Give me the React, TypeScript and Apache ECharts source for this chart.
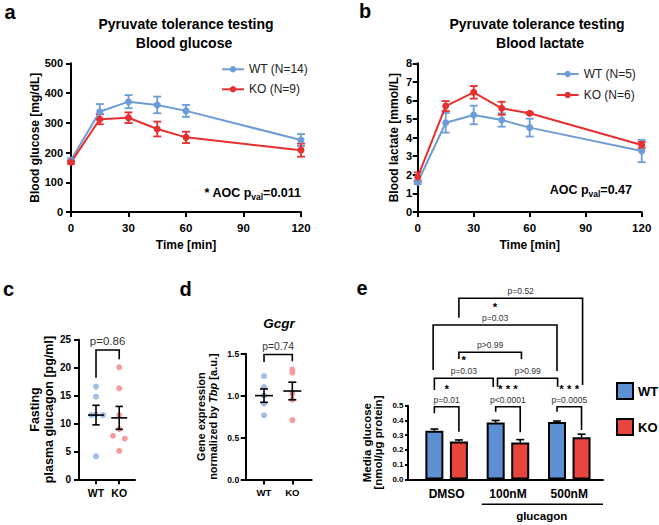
import React, { useEffect, useRef } from 'react';
import * as echarts from 'echarts';

const FONT = 'Arial, "Liberation Sans", Helvetica, sans-serif';

// ---------- panel a / b ----------
const timePoints = [0, 15, 30, 45, 60, 120];
const glucoseWT = [175, 337, 371, 360, 340, 242];
const glucoseWTErr = [5, 26, 22, 28, 20, 20];
const glucoseKO = [167, 312, 317, 279, 251, 208];
const glucoseKOErr = [5, 17, 18, 25, 19, 22];
const lactateWT = [1.6, 4.8, 5.22, 4.95, 4.54, 3.28];
const lactateWTErr = [0.1, 0.53, 0.5, 0.36, 0.48, 0.6];
const lactateKO = [1.88, 5.7, 6.44, 5.58, 5.31, 3.6];
const lactateKOErr = [0.25, 0.27, 0.34, 0.35, 0.05, 0.17];

// ---------- panel c ----------
const genotypes = ['WT', 'KO'];
const glucagonWTx = [1, 1, 0.8, 1, 1.3, 1];
const glucagonWTy = [16.6, 14.8, 11.5, 11.6, 11.5, 4.1];
const glucagonKOx = [2, 2, 2, 2, 1.73, 2.24, 2];
const glucagonKOy = [20.05, 16.3, 11.5, 9.0, 7.8, 7.3, 5.1];
const glucagonMean = [11.5, 11.0];
const glucagonSem = [1.75, 2.05];
const glucagonBracket = [[1, 2, 23.15, 18.2, 21.5]];
const glucagonP = ['p=0.86'];

// ---------- panel d ----------
const gcgrWTx = [1, 1, 1, 1, 1];
const gcgrWTy = [1.233, 1.102, 1.0, 0.905, 0.766];
const gcgrKOx = [2, 2, 2, 2, 2];
const gcgrKOy = [1.312, 1.273, 1.024, 0.952, 0.707];
const gcgrMean = [1.0, 1.055];
const gcgrSem = [0.08, 0.105];
const gcgrBracket = [[1, 2, 1.49, 1.4, 1.41]];
const gcgrP = ['p=0.74'];

// ---------- panel e ----------
const conditions = ['DMSO', '100nM', '500nM'];
const mediaWT = [0.33, 0.386, 0.39];
const mediaWTErr = [0.012, 0.014, 0.006];
const mediaKO = [0.257, 0.25, 0.287];
const mediaKOErr = [0.011, 0.02, 0.02];
const mediaBrackets = [
  [0.8, 1.2, 0.493, 0.449, 0.324],
  [1.8, 2.2, 0.493, 0.459, 0.32],
  [2.8, 3.2, 0.493, 0.459, 0.335],
  [0.8, 1.76, 0.686, 0.606, 0.627],
  [1.83, 2.81, 0.686, 0.629, 0.629],
  [1.2, 2.22, 0.862, 0.816, 0.816],
  [0.78, 2.8, 1.047, 0.742, 0.735],
  [1.2, 3.217, 1.228, 1.096, 0.64],
];
const mediaP = ['p=0.01', 'p<0.0001', 'p=0.0005', 'p=0.03', 'p>0.99', 'p>0.99', 'p=0.03', 'p=0.52'];
const mediaStars = ['*', '* * *', '* * *', '*', '', '', '*', ''];

const BLUE = '#6c9dd8';
const RED = '#e6302f';
const PT_BLUE = '#9fbde6';
const PT_RED = '#f39d9d';
const BAR_BLUE = '#5d8fd3';
const BAR_RED = '#e8453f';

function errRender(color: string, cap: number, lw: number, upOnly = false) {
  return (params: any, api: any) => {
    const x = api.value(0), y = api.value(1), e = api.value(2);
    const top = api.coord([x, y + e]);
    const bot = api.coord([x, upOnly ? y : y - e]);
    const st = { stroke: color, lineWidth: lw };
    const children: any[] = [
      { type: 'line', shape: { x1: top[0], y1: top[1], x2: bot[0], y2: bot[1] }, style: st },
      { type: 'line', shape: { x1: top[0] - cap, y1: top[1], x2: top[0] + cap, y2: top[1] }, style: st },
    ];
    if (!upOnly) children.push({ type: 'line', shape: { x1: bot[0] - cap, y1: bot[1], x2: bot[0] + cap, y2: bot[1] }, style: st });
    return { type: 'group', children };
  };
}

function meanRender(half: number, cap: number, lw: number) {
  return (params: any, api: any) => {
    const x = api.value(0), m = api.value(1), s = api.value(2);
    const pm = api.coord([x, m]), pt = api.coord([x, m + s]), pb = api.coord([x, m - s]);
    const st = { stroke: '#000', lineWidth: lw };
    return {
      type: 'group',
      children: [
        { type: 'line', shape: { x1: pm[0] - half, y1: pm[1], x2: pm[0] + half, y2: pm[1] }, style: st },
        { type: 'line', shape: { x1: pt[0], y1: pt[1], x2: pb[0], y2: pb[1] }, style: st },
        { type: 'line', shape: { x1: pt[0] - cap, y1: pt[1], x2: pt[0] + cap, y2: pt[1] }, style: st },
        { type: 'line', shape: { x1: pb[0] - cap, y1: pb[1], x2: pb[0] + cap, y2: pb[1] }, style: st },
      ],
    };
  };
}

function bracketRender(pTexts: string[], stars: string[], pSize: number, pGap: number, starGap: number, starSize: number) {
  return (params: any, api: any) => {
    const x1 = api.value(0), x2 = api.value(1), yt = api.value(2), yl = api.value(3), yr = api.value(4);
    const a = api.coord([x1, yl]), b = api.coord([x1, yt]), c = api.coord([x2, yt]), d = api.coord([x2, yr]);
    const cx = (b[0] + c[0]) / 2;
    const children: any[] = [
      { type: 'polyline', shape: { points: [a, b, c, d] }, style: { stroke: '#000', lineWidth: 1.6, fill: 'none' } },
    ];
    const p = pTexts[params.dataIndex];
    if (p) children.push({ type: 'text', style: { text: p, x: cx, y: b[1] - pGap, align: 'center', verticalAlign: 'middle', fontSize: pSize, fontFamily: FONT, fill: '#333' } });
    const s = stars[params.dataIndex];
    if (s) children.push({ type: 'text', style: { text: s, x: cx, y: b[1] - starGap, align: 'center', verticalAlign: 'middle', fontSize: starSize, fontWeight: 'bold', fontFamily: FONT, fill: '#000' } });
    return { type: 'group', children };
  };
}

const axLine = { show: true, onZero: false, lineStyle: { color: '#000', width: 2 } };
const axTick = (len: number) => ({ show: true, length: len, lineStyle: { color: '#000', width: 2 } });
const lbl = (size: number, margin: number) => ({ color: '#000', fontWeight: 'bold' as const, fontSize: size, fontFamily: FONT, margin });
const nameStyle = (size: number, lh: number) => ({ color: '#000', fontWeight: 'bold' as const, fontSize: size, fontFamily: FONT, lineHeight: lh });

function txt(text: string, x: number, y: number, size: number, opts: any = {}) {
  return {
    type: 'text',
    z: 100,
    style: { text, x, y, align: opts.align || 'center', verticalAlign: 'middle', fontSize: size, fontWeight: opts.weight || 'bold', fontStyle: opts.style || 'normal', fontFamily: FONT, fill: opts.fill || '#000' },
  };
}

function aocText(main1: string, main2: string, x: number, y: number) {
  return {
    type: 'text',
    z: 100,
    style: {
      text: `{b|${main1}}{s|val}{b|${main2}}`,
      x, y, align: 'right', verticalAlign: 'middle',
      rich: {
        b: { fontSize: 12.5, fontWeight: 'bold', fontFamily: FONT, fill: '#000' },
        s: { fontSize: 8.5, fontWeight: 'bold', fontFamily: FONT, fill: '#000', padding: [8, 0, 0, 0] },
      },
    },
  };
}

function buildOption(): any {
  const grids = [
    { left: 71, top: 63.3, width: 230, height: 148.7 },
    { left: 417.7, top: 63.3, width: 224, height: 148.7 },
    { left: 79, top: 339.7, width: 56, height: 139.6 },
    { left: 245.7, top: 353.7, width: 66, height: 125.8 },
    { left: 408, top: 405.7, width: 195, height: 73.8 },
  ].map((g) => ({ ...g, containLabel: false, outerBoundsMode: 'none' }));

  const xAxis: any[] = [
    {
      gridIndex: 0, type: 'value', min: 0, max: 120, interval: 30,
      name: 'Time [min]', nameLocation: 'middle', nameGap: 26, nameTextStyle: nameStyle(12, 14),
      axisLine: axLine, axisTick: axTick(5), axisLabel: lbl(11.5, 10), splitLine: { show: false },
    },
    {
      gridIndex: 1, type: 'value', min: 0, max: 120, interval: 30,
      name: 'Time [min]', nameLocation: 'middle', nameGap: 26, nameTextStyle: nameStyle(12, 14),
      axisLine: axLine, axisTick: axTick(5), axisLabel: lbl(11.5, 10), splitLine: { show: false },
    },
    {
      gridIndex: 2, type: 'value', min: 0.267, max: 2.68,
      axisLine: axLine, axisTick: { ...axTick(5), customValues: [1, 2] },
      axisLabel: { ...lbl(10.5, 8), customValues: [1, 2], formatter: (v: number) => genotypes[Math.round(v) - 1] || '' },
      splitLine: { show: false },
    },
    {
      gridIndex: 3, type: 'value', min: 0.353, max: 2.685,
      axisLine: axLine, axisTick: { ...axTick(5), customValues: [1, 2] },
      axisLabel: { ...lbl(9.6, 8), customValues: [1, 2], formatter: (v: number) => genotypes[Math.round(v) - 1] || '' },
      splitLine: { show: false },
    },
    {
      gridIndex: 4, type: 'value', min: 0.37, max: 3.55,
      axisLine: axLine, axisTick: { show: false },
      axisLabel: { ...lbl(12, 8), customValues: [1, 2, 3], formatter: (v: number) => conditions[Math.round(v) - 1] || '' },
      splitLine: { show: false },
    },
  ];

  const yAxis: any[] = [
    {
      gridIndex: 0, type: 'value', min: 0, max: 500, interval: 100,
      name: 'Blood glucose [mg/dL]', nameLocation: 'middle', nameGap: 29, nameTextStyle: nameStyle(12, 12),
      axisLine: axLine, axisTick: axTick(5), axisLabel: lbl(11, 8), splitLine: { show: false },
    },
    {
      gridIndex: 1, type: 'value', min: 0, max: 8, interval: 1,
      name: 'Blood lactate [mmol/L]', nameLocation: 'middle', nameGap: 17.5, nameTextStyle: nameStyle(12, 12),
      axisLine: axLine, axisTick: axTick(5), axisLabel: lbl(11, 5.5), splitLine: { show: false },
    },
    {
      gridIndex: 2, type: 'value', min: 0, max: 25, interval: 5,
      name: 'Fasting\nplasma glucagon [pg/ml]', nameLocation: 'middle', nameGap: 17, nameTextStyle: nameStyle(12.5, 14),
      axisLine: axLine, axisTick: axTick(5), axisLabel: lbl(10, 8), splitLine: { show: false },
    },
    {
      gridIndex: 3, type: 'value', min: 0, max: 1.5, interval: 0.5,
      name: '{a|Gene expression}\n{a|normalized by }{i|Tbp}{a| [a.u.]}', nameLocation: 'middle', nameGap: 27,
      nameTextStyle: {
        ...nameStyle(11, 12),
        rich: {
          a: { fontSize: 11, fontWeight: 'bold', fontFamily: FONT, color: '#000', lineHeight: 12 },
          i: { fontSize: 11, fontWeight: 'bold', fontStyle: 'italic', fontFamily: FONT, color: '#000', lineHeight: 12 },
        },
      },
      axisLine: axLine, axisTick: axTick(5), axisLabel: { ...lbl(8.5, 6.5), formatter: (v: number) => v.toFixed(1) }, splitLine: { show: false },
    },
    {
      gridIndex: 4, type: 'value', min: 0, max: 0.5, interval: 0.1,
      name: 'Media glucose\n[nmol/µg protein]', nameLocation: 'middle', nameGap: 25, nameTextStyle: nameStyle(11.5, 11),
      axisLine: axLine, axisTick: axTick(3), axisLabel: { ...lbl(8, 4.5), formatter: (v: number) => v.toFixed(1) }, splitLine: { show: false },
    },
  ];

  const lineSeries = (name: string, xi: number, vals: number[], color: string) => ({
    name, type: 'line', xAxisIndex: xi, yAxisIndex: xi,
    data: timePoints.map((t, i) => [t, vals[i]]),
    symbol: 'circle', symbolSize: 7, showSymbol: true,
    lineStyle: { color, width: 2 }, itemStyle: { color },
    silent: true, z: 3,
  });
  const errSeries = (xi: number, vals: number[], errs: number[], color: string) => ({
    type: 'custom', xAxisIndex: xi, yAxisIndex: xi, clip: false, silent: true, z: 3,
    data: timePoints.map((t, i) => [t, vals[i], errs[i]]),
    renderItem: errRender(color, 4, 1.8),
  });
  const scatter = (xi: number, xs: number[], ys: number[], color: string) => ({
    type: 'scatter', xAxisIndex: xi, yAxisIndex: xi, silent: true, z: 2,
    data: xs.map((x, i) => [x, ys[i]]), symbol: 'circle', symbolSize: 6, itemStyle: { color, opacity: 1 },
  });
  const meanSeries = (xi: number, means: number[], sems: number[], half: number, cap: number) => ({
    type: 'custom', xAxisIndex: xi, yAxisIndex: xi, clip: false, silent: true, z: 4,
    data: means.map((m, i) => [i + 1, m, sems[i]]), renderItem: meanRender(half, cap, 1.6),
  });
  const bracketSeries = (xi: number, rows: number[][], ps: string[], stars: string[], pSize: number, pGap: number, starGap: number) => ({
    type: 'custom', xAxisIndex: xi, yAxisIndex: xi, clip: false, silent: true, z: 5,
    data: rows, renderItem: bracketRender(ps, stars, pSize, pGap, starGap, 11.5),
  });
  const barSeries = (name: string, vals: number[], off: number, color: string) => ({
    name, type: 'bar', xAxisIndex: 4, yAxisIndex: 4, barWidth: 18, barGap: '-100%', silent: true,
    data: vals.map((v, i) => [i + 1 + off, v]),
    itemStyle: { color, borderColor: '#000', borderWidth: 2 },
  });
  const barErr = (vals: number[], errs: number[], off: number) => ({
    type: 'custom', xAxisIndex: 4, yAxisIndex: 4, clip: false, silent: true, z: 4,
    data: vals.map((v, i) => [i + 1 + off, v, errs[i]]), renderItem: errRender('#000', 4, 1.6, true),
  });

  const series: any[] = [
    lineSeries('WT (N=14)', 0, glucoseWT, BLUE),
    lineSeries('KO (N=9)', 0, glucoseKO, RED),
    errSeries(0, glucoseWT, glucoseWTErr, BLUE),
    errSeries(0, glucoseKO, glucoseKOErr, RED),
    lineSeries('WT (N=5)', 1, lactateWT, BLUE),
    lineSeries('KO (N=6)', 1, lactateKO, RED),
    errSeries(1, lactateWT, lactateWTErr, BLUE),
    errSeries(1, lactateKO, lactateKOErr, RED),
    scatter(2, glucagonWTx, glucagonWTy, PT_BLUE),
    scatter(2, glucagonKOx, glucagonKOy, PT_RED),
    meanSeries(2, glucagonMean, glucagonSem, 8, 3.7),
    bracketSeries(2, glucagonBracket, glucagonP, [], 11.5, 9.3, 20),
    scatter(3, gcgrWTx, gcgrWTy, PT_BLUE),
    scatter(3, gcgrKOx, gcgrKOy, PT_RED),
    meanSeries(3, gcgrMean, gcgrSem, 9, 4),
    bracketSeries(3, gcgrBracket, gcgrP, [], 10.3, 8, 20),
    barSeries('WT', mediaWT, -0.2, BAR_BLUE),
    barSeries('KO', mediaKO, 0.2, BAR_RED),
    barErr(mediaWT, mediaWTErr, -0.2),
    barErr(mediaKO, mediaKOErr, 0.2),
    bracketSeries(4, mediaBrackets, mediaP, mediaStars, 8.5, 7, 17.8),
  ];

  const legendText = { fontSize: 12, fontFamily: FONT, color: '#222', lineHeight: 14 };
  const legend: any[] = [
    {
      data: ['WT (N=14)', 'KO (N=9)'], orient: 'vertical', left: 221, top: 62.3, padding: 0,
      itemWidth: 22, itemHeight: 8, itemGap: 6, textStyle: legendText, selectedMode: false,
    },
    {
      data: ['WT (N=5)', 'KO (N=6)'], orient: 'vertical', left: 555.7, top: 67, padding: 0,
      itemWidth: 22, itemHeight: 8, itemGap: 7, textStyle: legendText, selectedMode: false,
    },
    {
      data: ['WT', 'KO'], orient: 'vertical', left: 616, top: 382, padding: 0, icon: 'rect',
      itemWidth: 16, itemHeight: 16, itemGap: 18, selectedMode: false,
      itemStyle: { borderColor: '#000', borderWidth: 2 },
      textStyle: { fontSize: 13, fontWeight: 'bold', fontFamily: FONT, color: '#000', lineHeight: 16 },
    },
  ];

  const graphic: any[] = [
    txt('a', 10, 12, 20),
    txt('b', 365, 10.7, 20),
    txt('c', 8.5, 289, 20),
    txt('d', 185.5, 289, 20),
    txt('e', 362, 288, 20),
    txt('Pyruvate tolerance testing', 186, 24, 14),
    txt('Blood glucose', 184, 43.3, 14),
    txt('Pyruvate tolerance testing', 537, 24, 14),
    txt('Blood lactate', 540, 43.3, 14),
    txt('Gcgr', 279, 323, 13.5, { style: 'italic' }),
    aocText('* AOC p', '=0.011', 301, 193),
    aocText('AOC p', '=0.47', 632, 190),
    { type: 'line', z: 100, shape: { x1: 481.7, y1: 504.3, x2: 603, y2: 504.3 }, style: { stroke: '#000', lineWidth: 1.5 } },
    txt('glucagon', 541.7, 516, 11.5),
  ];

  return {
    animation: false,
    backgroundColor: '#fff',
    textStyle: { fontFamily: FONT },
    grid: grids,
    xAxis,
    yAxis,
    legend,
    series,
    graphic,
  };
}

export default function App() {
  const ref = useRef<HTMLDivElement>(null);
  useEffect(() => {
    const chart = echarts.init(ref.current as HTMLDivElement, null, { renderer: 'svg' });
    chart.setOption(buildOption());
    return () => chart.dispose();
  }, []);
  return <div ref={ref} style={{ position: 'fixed', left: 0, top: 0, width: 659, height: 525, background: '#fff' }} />;
}
